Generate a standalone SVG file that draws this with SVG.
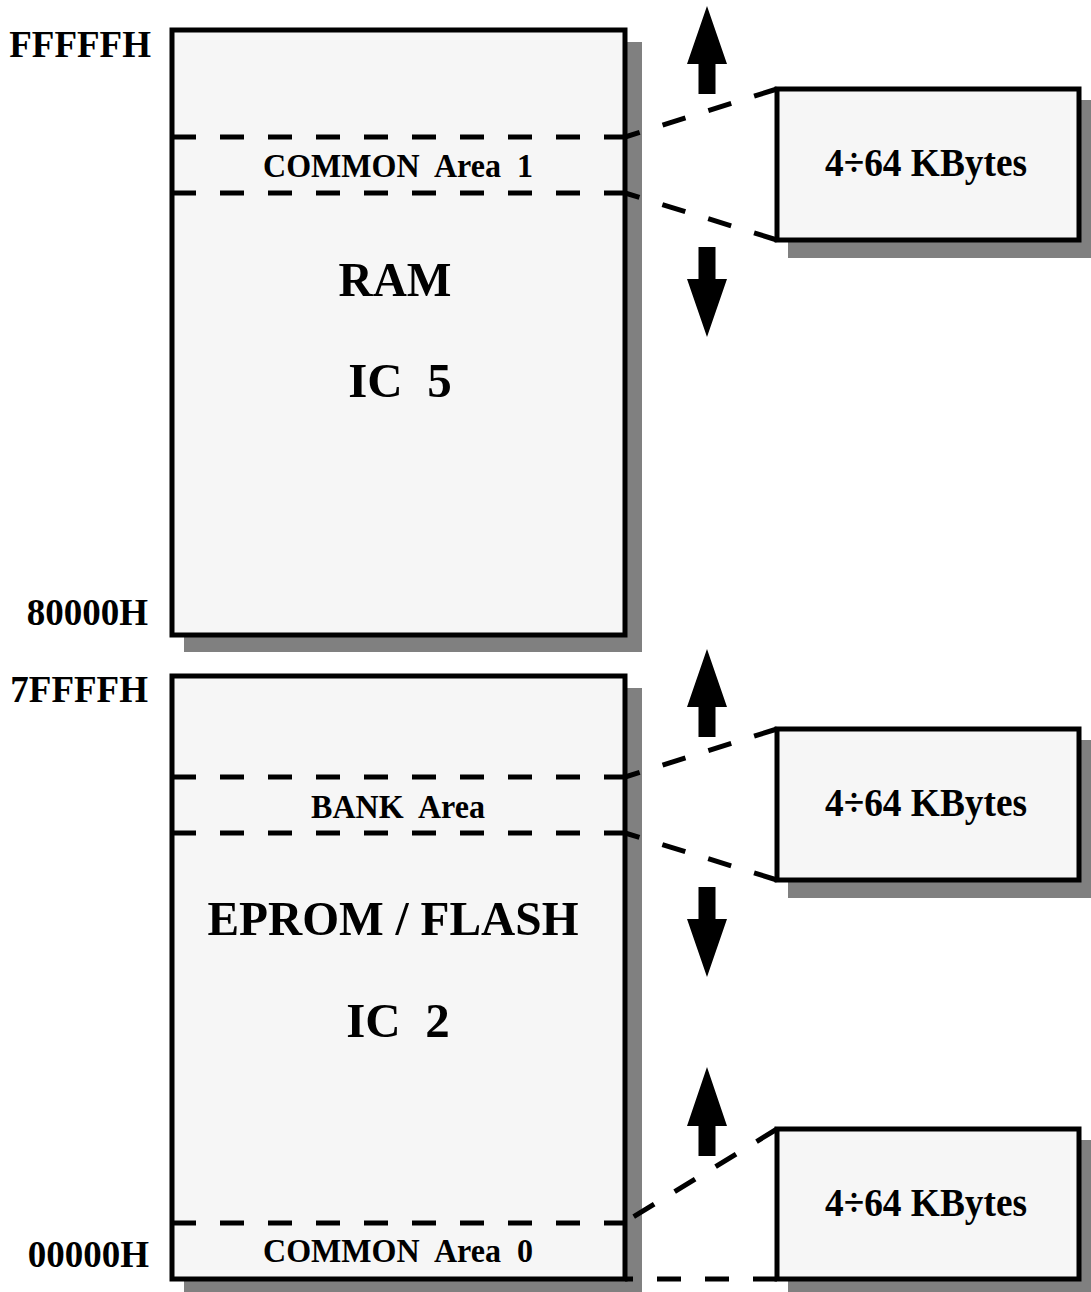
<svg xmlns="http://www.w3.org/2000/svg" width="1091" height="1292" viewBox="0 0 1091 1292">
<style>
text{font-family:"Liberation Serif","Times New Roman",serif;font-weight:bold;fill:#000;white-space:pre}
.box{fill:#f6f6f6;stroke:#000;stroke-width:5}
.shadow{fill:#808080}
.dash{stroke:#000;stroke-width:5;stroke-dasharray:24 24;fill:none}
.addr{font-size:37px;text-anchor:end}
.area{font-size:33px;text-anchor:middle}
.big{font-size:49px;text-anchor:middle}
.kb{font-size:40px;text-anchor:middle}
.arrow{fill:#000}
</style>
<rect width="1091" height="1292" fill="#fff"/>

<g id="addresses">
<text class="addr" x="151" y="57">FFFFFH</text>
<text class="addr" x="148" y="625">80000H</text>
<text class="addr" x="148" y="702">7FFFFH</text>
<text class="addr" x="149" y="1267">00000H</text>
</g>

<g id="ram">
<rect class="shadow" x="184" y="42" width="458" height="610"/>
<rect class="box" x="172" y="30" width="453" height="605"/>
<line class="dash" x1="172" y1="137" x2="625" y2="137"/>
<line class="dash" x1="172" y1="193" x2="625" y2="193"/>
<text class="area" x="398" y="177" textLength="270" lengthAdjust="spacingAndGlyphs">COMMON  Area  1</text>
<text class="big" x="395" y="296" textLength="113" lengthAdjust="spacingAndGlyphs">RAM</text>
<text class="big" x="400" y="397">IC  5</text>
</g>

<g id="eprom">
<rect class="shadow" x="184" y="688" width="458" height="610"/>
<rect class="box" x="172" y="676" width="453" height="603"/>
<line class="dash" x1="172" y1="777" x2="625" y2="777"/>
<line class="dash" x1="172" y1="833" x2="625" y2="833"/>
<line class="dash" x1="172" y1="1223" x2="625" y2="1223"/>
<text class="area" x="398" y="818" textLength="174" lengthAdjust="spacingAndGlyphs">BANK  Area</text>
<text class="big" x="393" y="935" textLength="371" lengthAdjust="spacingAndGlyphs">EPROM / FLASH</text>
<text class="big" x="398" y="1037">IC  2</text>
<text class="area" x="398" y="1262" textLength="270" lengthAdjust="spacingAndGlyphs">COMMON  Area  0</text>
</g>

<g id="kb1">
<rect class="shadow" x="788" y="100" width="308" height="158"/>
<rect class="box" x="777" y="89" width="302" height="151"/>
<text class="kb" x="926" y="176" textLength="202" lengthAdjust="spacingAndGlyphs">4÷64 KBytes</text>
</g>

<g id="kb2">
<rect class="shadow" x="788" y="740" width="308" height="158"/>
<rect class="box" x="777" y="729" width="302" height="151"/>
<text class="kb" x="926" y="816" textLength="202" lengthAdjust="spacingAndGlyphs">4÷64 KBytes</text>
</g>

<g id="kb3">
<rect class="shadow" x="788" y="1140" width="308" height="160"/>
<rect class="box" x="777" y="1129" width="302" height="150"/>
<text class="kb" x="926" y="1216" textLength="202" lengthAdjust="spacingAndGlyphs">4÷64 KBytes</text>
</g>

<g id="connectors">
<line class="dash" x1="777" y1="89" x2="625" y2="137"/>
<line class="dash" x1="777" y1="240" x2="625" y2="193"/>
<line class="dash" x1="777" y1="729" x2="625" y2="777"/>
<line class="dash" x1="777" y1="880" x2="625" y2="833"/>
<line class="dash" x1="777" y1="1129" x2="625" y2="1222"/>
<line class="dash" x1="777" y1="1279" x2="625" y2="1279"/>
</g>

<g id="arrows">
<polygon class="arrow" points="707,6 727,64 715.5,64 715.5,94 698.5,94 698.5,64 687,64"/>
<polygon class="arrow" points="707,337 727,279 715.5,279 715.5,247 698.5,247 698.5,279 687,279"/>
<polygon class="arrow" points="707,649 727,707 715.5,707 715.5,737 698.5,737 698.5,707 687,707"/>
<polygon class="arrow" points="707,977 727,919 715.5,919 715.5,887 698.5,887 698.5,919 687,919"/>
<polygon class="arrow" points="707,1067 727,1126 715.5,1126 715.5,1156 698.5,1156 698.5,1126 687,1126"/>
</g>
</svg>
